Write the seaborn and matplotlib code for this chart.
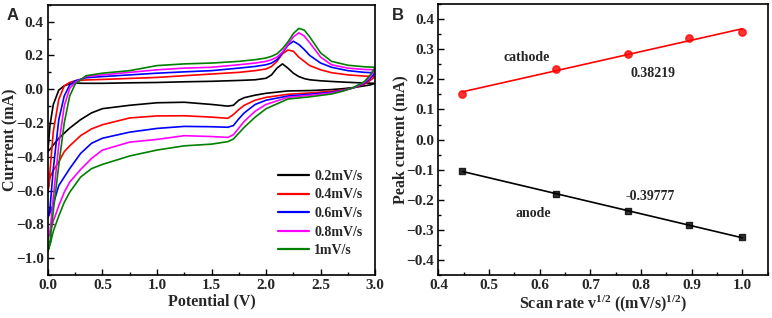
import numpy as np
import pandas as pd
import seaborn as sns
import matplotlib
matplotlib.use("Agg")
import matplotlib.pyplot as plt
from matplotlib.ticker import MultipleLocator

# ---- panel A: cyclic voltammograms ----
rates = ['0.2mV/s', '0.4mV/s', '0.6mV/s', '0.8mV/s', '1mV/s']
colors = ['black', 'red', 'blue', 'magenta', 'green']

# forward sweep (upper branch), 0 -> 3 V
v_up = [0.0, 0.02, 0.05, 0.1, 0.15, 0.2, 0.25, 0.35, 0.5, 0.75, 1.0, 1.25, 1.5, 1.75, 1.9,
        2.0, 2.05, 2.1, 2.15, 2.2, 2.25, 2.3, 2.35, 2.4, 2.5, 2.6, 2.75, 2.9, 3.0]
i_up_02 = [-0.37, -0.21, -0.09, -0.005, 0.02, 0.032, 0.036, 0.035, 0.035, 0.038, 0.040, 0.044, 0.047, 0.052, 0.056,
           0.065, 0.085, 0.125, 0.15, 0.125, 0.095, 0.075, 0.063, 0.056, 0.050, 0.046, 0.041, 0.037, 0.035]
i_up_04 = [-0.61, -0.48, -0.25, -0.06, 0.02, 0.04, 0.05, 0.055, 0.058, 0.064, 0.07, 0.08, 0.09, 0.10, 0.11,
           0.12, 0.135, 0.165, 0.21, 0.232, 0.225, 0.19, 0.165, 0.14, 0.115, 0.098, 0.085, 0.078, 0.075]
i_up_06 = [-0.76, -0.70, -0.47, -0.18, -0.04, 0.025, 0.05, 0.068, 0.075, 0.085, 0.095, 0.103, 0.11, 0.125, 0.135,
           0.145, 0.155, 0.175, 0.215, 0.26, 0.284, 0.265, 0.235, 0.20, 0.155, 0.13, 0.11, 0.10, 0.097]
i_up_08 = [-0.88, -0.84, -0.64, -0.33, -0.10, 0.005, 0.04, 0.075, 0.085, 0.10, 0.115, 0.125, 0.13, 0.145, 0.155,
           0.165, 0.175, 0.19, 0.22, 0.265, 0.31, 0.334, 0.315, 0.275, 0.19, 0.145, 0.125, 0.117, 0.115]
i_up_10 = [-0.96, -0.90, -0.72, -0.45, -0.20, -0.04, 0.03, 0.08, 0.095, 0.11, 0.14, 0.15, 0.155, 0.165, 0.175,
           0.185, 0.195, 0.21, 0.24, 0.28, 0.33, 0.36, 0.35, 0.31, 0.215, 0.165, 0.142, 0.133, 0.13]

# reverse sweep (lower branch), 3 -> 0 V
v_dn = [3.0, 2.95, 2.9, 2.8, 2.7, 2.6, 2.4, 2.2, 2.0, 1.9, 1.8, 1.75, 1.7, 1.65, 1.5, 1.25, 1.0,
        0.75, 0.5, 0.4, 0.3, 0.2, 0.15, 0.1, 0.05, 0.02, 0.0]
i_dn_02 = [0.035, 0.025, 0.02, 0.01, 0.003, -0.002, -0.008, -0.01, -0.024, -0.035, -0.05, -0.065, -0.095, -0.1,
           -0.09, -0.077, -0.08, -0.095, -0.115, -0.14, -0.18, -0.23, -0.26, -0.29, -0.33, -0.355, -0.37]
i_dn_04 = [0.075, 0.05, 0.03, 0.008, -0.005, -0.012, -0.022, -0.03, -0.048, -0.065, -0.095, -0.12, -0.15, -0.172,
           -0.165, -0.157, -0.158, -0.17, -0.21, -0.235, -0.275, -0.335, -0.37, -0.43, -0.48, -0.52, -0.61]
i_dn_06 = [0.097, 0.06, 0.035, 0.008, -0.008, -0.018, -0.03, -0.04, -0.065, -0.09, -0.14, -0.175, -0.215, -0.225,
           -0.222, -0.22, -0.232, -0.254, -0.29, -0.32, -0.38, -0.47, -0.52, -0.57, -0.68, -0.73, -0.76]
i_dn_08 = [0.115, 0.07, 0.04, 0.008, -0.01, -0.022, -0.036, -0.048, -0.09, -0.13, -0.19, -0.23, -0.27, -0.285,
           -0.28, -0.275, -0.297, -0.313, -0.36, -0.41, -0.475, -0.55, -0.61, -0.69, -0.78, -0.85, -0.88]
i_dn_10 = [0.13, 0.08, 0.045, 0.01, -0.012, -0.028, -0.045, -0.058, -0.115, -0.165, -0.225, -0.26, -0.295, -0.31,
           -0.325, -0.335, -0.36, -0.395, -0.445, -0.47, -0.52, -0.61, -0.67, -0.75, -0.84, -0.92, -0.96]

i_up = [i_up_02, i_up_04, i_up_06, i_up_08, i_up_10]
i_dn = [i_dn_02, i_dn_04, i_dn_06, i_dn_08, i_dn_10]

# ---- panel B: peak current vs sqrt(scan rate) ----
sqrt_rate = [0.447, 0.632, 0.775, 0.894, 1.0]
cathode = [0.152, 0.235, 0.285, 0.337, 0.358]
anode = [-0.105, -0.180, -0.237, -0.285, -0.325]

rows = []
for r, up, dn in zip(rates, i_up, i_dn):
    for v, c in zip(v_up + v_dn, up + dn):
        rows.append({'rate': r, 'V': v, 'I': c})
cv = pd.DataFrame(rows)

sns.set_style('white')
plt.rcParams['font.family'] = ['Liberation Serif']
plt.rcParams['font.weight'] = 'bold'
plt.rcParams['axes.labelweight'] = 'bold'
plt.rcParams['mathtext.fontset'] = 'custom'
plt.rcParams['mathtext.rm'] = 'Liberation Serif:bold'
plt.rcParams['mathtext.it'] = 'Liberation Serif:bold'
plt.rcParams['mathtext.bf'] = 'Liberation Serif:bold'

fig = plt.figure(figsize=(7.72, 3.18), dpi=100)
axA = fig.add_axes([0.062, 0.135, 0.424, 0.85])
axB = fig.add_axes([0.568, 0.135, 0.4265, 0.852])


def style_ax(ax):
    for spine in ax.spines.values():
        spine.set_linewidth(1.2)
        spine.set_color('black')
    ax.tick_params(which='both', direction='in', bottom=True, left=True, top=False, right=False,
                   labelsize=11, width=1.0, color='black', pad=3)
    ax.tick_params(which='major', length=4)
    ax.tick_params(which='minor', length=2.5)
    for lab in ax.get_xticklabels() + ax.get_yticklabels():
        lab.set_fontweight('bold')


sns.lineplot(data=cv, x='V', y='I', hue='rate', palette=colors, sort=False, estimator=None,
             units='rate', linewidth=1.2, ax=axA)
axA.set_xlim(0, 3.0)
axA.set_ylim(-1.1, 0.5)
axA.xaxis.set_major_locator(MultipleLocator(0.5))
axA.xaxis.set_minor_locator(MultipleLocator(0.25))
axA.yaxis.set_major_locator(MultipleLocator(0.2))
axA.yaxis.set_minor_locator(MultipleLocator(0.1))
axA.set_xlabel('Potential (V)', fontsize=11.5, labelpad=1)
axA.set_ylabel('Currrent (mA)', fontsize=11.5)
axA.yaxis.set_label_coords(-0.09, 0.5)
style_ax(axA)
leg = axA.legend(frameon=False, loc='lower right', bbox_to_anchor=(1.0, 0.02), fontsize=10,
                 handlelength=2.2, labelspacing=0.4, handletextpad=0.4)
for line in leg.get_lines():
    line.set_linewidth(1.6)

sns.regplot(x=sqrt_rate, y=cathode, ci=None, color='red', marker='o', truncate=True,
            scatter_kws={'s': 28, 'zorder': 3}, line_kws={'linewidth': 1.2}, ax=axB)
sns.regplot(x=sqrt_rate, y=anode, ci=None, color='black', marker='s', truncate=True,
            scatter_kws={'s': 24, 'zorder': 3}, line_kws={'linewidth': 1.2}, ax=axB)
axB.set_xlim(0.4, 1.05)
axB.set_ylim(-0.45, 0.45)
axB.xaxis.set_major_locator(MultipleLocator(0.1))
axB.xaxis.set_minor_locator(MultipleLocator(0.05))
axB.yaxis.set_major_locator(MultipleLocator(0.1))
axB.yaxis.set_minor_locator(MultipleLocator(0.05))
axB.set_xlabel('Scan rate v$^{1/2}$ ((mV/s)$^{1/2}$)', fontsize=11.5, labelpad=1)
axB.set_ylabel('Peak current (mA)', fontsize=11.5)
axB.yaxis.set_label_coords(-0.092, 0.5)
style_ax(axB)
axB.text(0.574, 0.274, 'cathode', ha='center', va='center', fontsize=10, fontweight='bold')
axB.text(0.824, 0.218, '0.38219', ha='center', va='center', fontsize=10, fontweight='bold')
axB.text(0.818, -0.189, '-0.39777', ha='center', va='center', fontsize=10, fontweight='bold')
axB.text(0.587, -0.247, 'anode', ha='center', va='center', fontsize=10, fontweight='bold')

fig.text(0.008, 0.975, 'A', ha='left', va='top', fontsize=12, fontweight='bold', family='Liberation Sans')
fig.text(0.507, 0.975, 'B', ha='left', va='top', fontsize=12, fontweight='bold', family='Liberation Sans')

fig.savefig('out.png', dpi=100)
